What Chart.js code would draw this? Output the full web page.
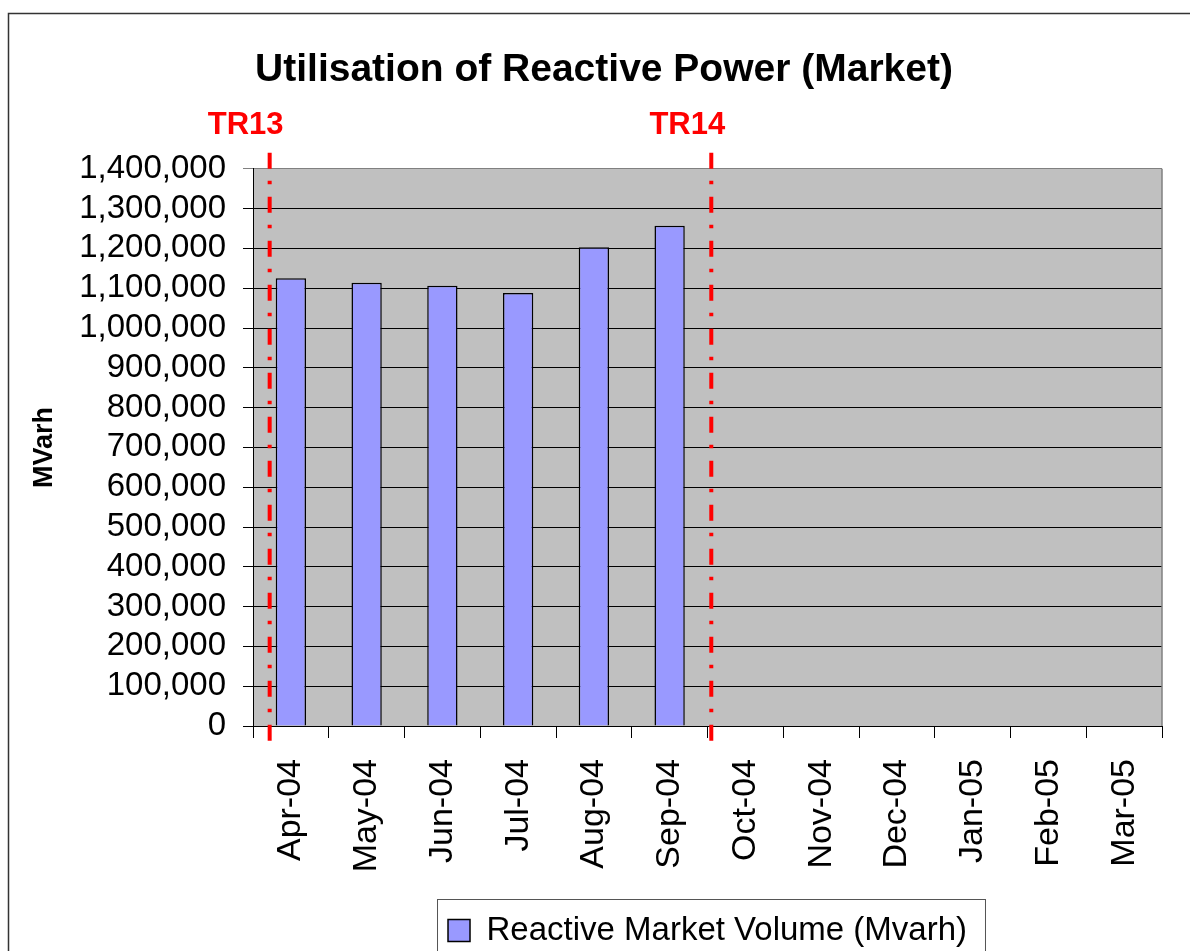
<!DOCTYPE html>
<html>
<head>
<meta charset="utf-8">
<title>Utilisation of Reactive Power (Market)</title>
<script src="https://cdn.jsdelivr.net/npm/chart.js@4"></script>
<style>
  html, body { margin: 0; padding: 0; background: #fff; }
  #wrap { width: 1190px; height: 951px; }
</style>
</head>
<body>
<div id="wrap"><canvas id="chart"></canvas></div>
<script>
// ---- data ----
const months = ['Apr-04', 'May-04', 'Jun-04', 'Jul-04', 'Aug-04', 'Sep-04',
                'Oct-04', 'Nov-04', 'Dec-04', 'Jan-05', 'Feb-05', 'Mar-05'];
const volumes = [1125000, 1114000, 1106000, 1088000, 1203000, 1257000,
                 null, null, null, null, null, null];
const seriesName = 'Reactive Market Volume (Mvarh)';
const yMin = 0;
const yMax = 1400000;
const yStep = 100000;
// tariff period markers, in category units (0 = Apr-04)
const periodLabels = ['TR13', 'TR14'];
const periodStarts = [-0.28, 5.55];

Chart.defaults.font.family = '"Liberation Sans", Arial, sans-serif';
Chart.defaults.color = '#000';

// white page, outer frame, grey plot area
const framePlugin = {
  id: 'frame',
  beforeDraw(chart) {
    const { ctx, chartArea: a } = chart;
    ctx.save();
    ctx.fillStyle = '#fff';
    ctx.fillRect(0, 0, chart.width, chart.height);
    ctx.strokeStyle = '#333';
    ctx.lineWidth = 1.5;
    ctx.strokeRect(8.5, 13.5, chart.width + 40, chart.height + 40);
    ctx.fillStyle = '#c0c0c0';
    ctx.fillRect(a.left, a.top, a.right - a.left, a.bottom - a.top);
    ctx.restore();
  },
  afterDraw(chart) {
    const { ctx, chartArea: a } = chart;
    ctx.save();
    ctx.strokeStyle = '#808080';
    ctx.lineWidth = 1.5;
    ctx.beginPath();
    ctx.moveTo(a.right, a.top);
    ctx.lineTo(a.right, a.bottom);
    ctx.stroke();
    // box round the legend
    const hb = chart.legend.legendHitBoxes[0];
    if (hb) {
      ctx.strokeStyle = '#555';
      ctx.lineWidth = 1;
      ctx.strokeRect(hb.left - 10.5, hb.top - 14.5, hb.width + 29, 200);
    }
    ctx.restore();
  }
};

// red dash-dot lines marking the tariff periods
const periodPlugin = {
  id: 'periods',
  afterDatasetsDraw(chart) {
    const { ctx, chartArea: a, scales: { x } } = chart;
    ctx.save();
    periodStarts.forEach((v, i) => {
      const px = x.getPixelForValue(v);
      ctx.strokeStyle = '#ff0000';
      ctx.lineWidth = 4;
      ctx.setLineDash([16, 12, 3.5, 12.5]);
      ctx.beginPath();
      ctx.moveTo(px, a.top - 16);
      ctx.lineTo(px, a.bottom + 15);
      ctx.stroke();
      ctx.setLineDash([]);
      ctx.fillStyle = '#ff0000';
      ctx.font = 'bold 31px "Liberation Sans", Arial, sans-serif';
      ctx.textAlign = 'center';
      ctx.textBaseline = 'middle';
      ctx.fillText(periodLabels[i], px - 24, a.top - 43);
    });
    ctx.restore();
  }
};

new Chart(document.getElementById('chart'), {
  type: 'bar',
  data: {
    labels: months,
    datasets: [{
      label: seriesName,
      data: volumes,
      backgroundColor: '#9999ff',
      borderColor: '#000',
      borderWidth: 1.5,
      barPercentage: 0.4,
      categoryPercentage: 1.0
    }]
  },
  options: {
    responsive: true,
    maintainAspectRatio: false,
    animation: false,
    devicePixelRatio: 1,
    layout: { padding: { left: 46, right: 28, top: 0, bottom: -6 } },
    plugins: {
      title: {
        display: true,
        text: 'Utilisation of Reactive Power (Market)',
        font: { size: 39, weight: 'bold' },
        color: '#000',
        padding: { top: 47, bottom: 75 }
      },
      legend: {
        position: 'bottom',
        fullSize: false,
        labels: { boxWidth: 22, boxHeight: 22, font: { size: 33 }, color: '#000', padding: 10 }
      },
      tooltip: { enabled: false }
    },
    scales: {
      x: {
        grid: { drawOnChartArea: false, drawTicks: true, tickLength: 12, color: '#000', offset: true },
        border: { color: '#000', width: 1 },
        ticks: { autoSkip: false, maxRotation: 90, minRotation: 90, padding: 21, font: { size: 34 }, color: '#000' },
        afterFit(scale) { scale.height = 178; }
      },
      y: {
        min: yMin,
        max: yMax,
        ticks: { stepSize: yStep, autoSkip: false, padding: 17, font: { size: 33 }, color: '#000' },
        grid: {
          color: (c) => (c.tick && c.tick.value === yMax ? '#808080' : '#000'),
          tickLength: 10
        },
        border: { color: '#000' },
        title: { display: true, text: 'MVarh', font: { size: 27, weight: 'bold' }, color: '#000', padding: { top: -18 } },
        afterFit(scale) { scale.width = 207; }
      }
    }
  },
  plugins: [framePlugin, periodPlugin]
});
</script>
</body>
</html>
